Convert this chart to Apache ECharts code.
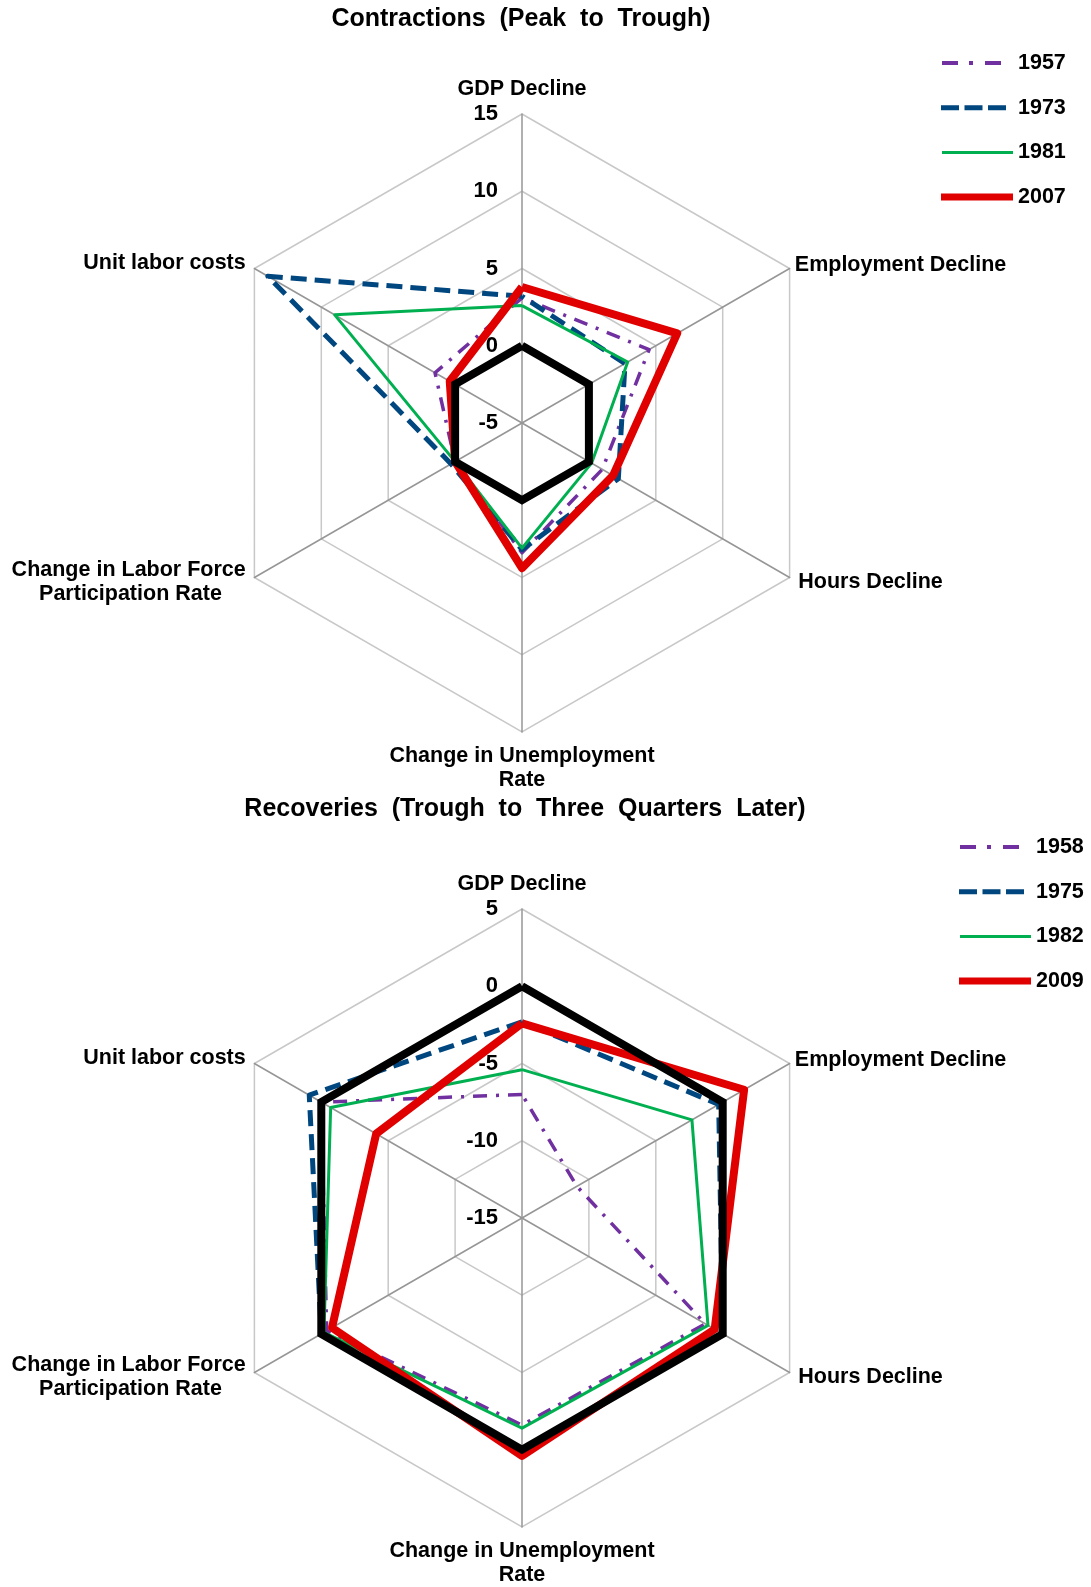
<!DOCTYPE html>
<html>
<head>
<meta charset="utf-8">
<script src="https://cdn.jsdelivr.net/npm/echarts@6/dist/echarts.min.js"></script>
<style>
  html, body { margin: 0; padding: 0; background: #fff; }
  #main { width: 1091px; height: 1587px; }
</style>
</head>
<body>
<div id="main"></div>
<script>
// radar goes counterclockwise, so the axes are listed GDP first, then round to the left
var axisNames = ['GDP Decline', 'Unit labor costs', 'Change in Labor Force\nParticipation Rate\u00a0\u00a0\u00a0\u00a0',
  'Change in Unemployment\nRate', 'Hours Decline', 'Employment Decline'];
var nameGaps = [13, 10, 10, 12, 10, 6];

// contractions (peak to trough)
var years1 = ['1957', '1973', '1981', '2007'];
var c1957 = [3.1, 1.5, 0, 3.4, 1.0, 4.5];
var c1973 = [3.2, 14, 0.3, 3.2, 2.2, 2.7];
var c1981 = [2.6, 9, 0, 3.1, 0.2, 2.9];
var c2007 = [3.8, 0.4, 0, 4.4, 1.8, 6.6];

// recoveries (trough to three quarters later)
var years2 = ['1958', '1975', '1982', '2009'];
var r1958 = [-7, 0, -0.4, -1.6, -1.3, -10.9];
var r1975 = [-2.3, 0.9, 0, 0, 0, -0.3];
var r1982 = [-5.4, -0.7, -0.2, -1.4, -1.1, -2.3];
var r2009 = [-2.4, -4.1, -0.8, 0.4, -0.6, 1.6];

var zeroLine = [0, 0, 0, 0, 0, 0];

var colors = ['#7030A0', '#00467F', '#00B050', '#E00000'];
var widths = [3.5, 5, 3, 8];
var dashes = [[14, 9, 3, 9], [16, 8], 'solid', 'solid'];

// legend icons: tiny slivers in opposite corners keep every icon box 72 x 8
var box = 'M0,0h0.01v0.01h-0.01z M71.99,7.99h0.01v0.01h-0.01z ';
var icons = [
  'path://' + box + 'M1,2h16v4h-16z M28,2h4v4h-4z M44,2h16v4h-16z',
  'path://' + box + 'M0,1.5h18v5h-18z M23.5,1.5h18v5h-18z M47,1.5h18v5h-18z',
  'path://' + box + 'M1,2.5h71v3h-71z',
  'path://' + box + 'M0,0.5h72v7h-72z'
];

var font = 'Liberation Sans';

function makeRadar(cy, min, max) {
  return {
    center: [522, cy],
    radius: 309,
    shape: 'polygon',
    splitNumber: 4,
    startAngle: 90,
    nameGap: 10,
    axisName: { fontFamily: font, fontWeight: 'bold', fontSize: 21.5, color: '#000', lineHeight: 24 },
    indicator: axisNames.map(function (n, i) {
      var ind = { name: n, min: min, max: max, nameGap: nameGaps[i] };
      if (i === 0) {
        ind.axisLabel = { show: true, fontFamily: font, fontWeight: 'bold', fontSize: 22, color: '#000', margin: 24 };
      }
      return ind;
    }),
    axisLabel: { show: false },
    splitArea: { show: false },
    splitLine: { lineStyle: { color: '#C8C8C8', width: 1.5 } },
    axisLine: { lineStyle: { color: '#969696', width: 1.5 } }
  };
}

function makeSeries(radarIndex, names, rows) {
  var list = rows.map(function (vals, i) {
    return {
      type: 'radar',
      radarIndex: radarIndex,
      symbol: 'none',
      silent: true,
      itemStyle: { color: colors[i] },
      lineStyle: { color: colors[i], width: widths[i], type: dashes[i], join: 'round' },
      data: [{ name: names[i], value: vals }]
    };
  });
  // black zero line on top
  list.push({
    type: 'radar',
    radarIndex: radarIndex,
    symbol: 'none',
    silent: true,
    itemStyle: { color: '#000' },
    lineStyle: { color: '#000', width: 8, join: 'miter' },
    data: [{ name: 'zero', value: zeroLine }]
  });
  return list;
}

function makeLegend(left, top, names) {
  return {
    orient: 'vertical',
    left: left,
    top: top,
    itemWidth: 72,
    itemHeight: 8,
    itemGap: 22.7,
    selectedMode: false,
    textStyle: { fontFamily: font, fontWeight: 'bold', fontSize: 21.5, color: '#000', lineHeight: 20 },
    data: names.map(function (n, i) {
      return { name: n, icon: icons[i], itemStyle: { color: colors[i], borderWidth: 0 } };
    })
  };
}

var chart = echarts.init(document.getElementById('main'), null, { renderer: 'canvas' });
chart.setOption({
  backgroundColor: '#fff',
  animation: false,
  title: [
    { text: 'Contractions  (Peak  to  Trough)', left: 516, top: 2, textAlign: 'center',
      textStyle: { fontFamily: font, fontWeight: 'bold', fontSize: 25, color: '#000' } },
    { text: 'Recoveries  (Trough  to  Three  Quarters  Later)', left: 520, top: 792, textAlign: 'center',
      textStyle: { fontFamily: font, fontWeight: 'bold', fontSize: 25, color: '#000' } }
  ],
  legend: [makeLegend(936, 47, years1), makeLegend(954, 831, years2)],
  radar: [makeRadar(423, -5, 15), makeRadar(1218, -15, 5)],
  series: makeSeries(0, years1, [c1957, c1973, c1981, c2007])
    .concat(makeSeries(1, years2, [r1958, r1975, r1982, r2009]))
});
</script>
</body>
</html>
